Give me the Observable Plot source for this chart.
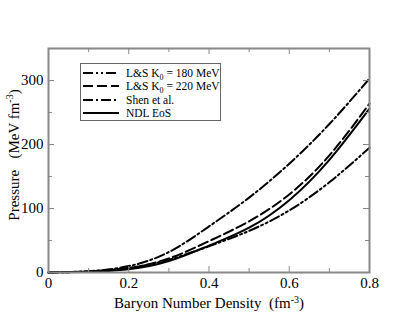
<!DOCTYPE html>
<html><head><meta charset="utf-8">
<script src="https://cdn.jsdelivr.net/npm/d3@7"></script>
<script src="https://cdn.jsdelivr.net/npm/@observablehq/plot@0.6"></script>
<style>body{margin:0;background:#fff} svg text{font-family:"Liberation Serif","Times New Roman",serif}</style>
</head><body><div id="chart"></div>
<script>
const density = [0, 0.1, 0.2, 0.3, 0.4, 0.5, 0.6, 0.7, 0.8];
const ls180 = [0, 1.5, 7, 20, 41, 65, 97, 141, 195];
const ls220 = [0, 1.5, 7, 22, 49, 80, 122, 183, 264];
const shen  = [0, 2, 10, 32, 72, 117, 170, 232, 303];
const ndl   = [0, 1, 5, 18, 42, 70, 113, 176, 256];
const seriesNames = ["L&S K0 = 180 MeV", "L&S K0 = 220 MeV", "Shen et al.", "NDL EoS"];
const xMajor = [0, 0.2, 0.4, 0.6, 0.8];
const xMinor = [0.1, 0.3, 0.5, 0.7];
const yMajor = [0, 100, 200, 300];
const yMinor = [50, 150, 250];

const dashes = ["10,3,2,3,2,3", "10,4", "10,3,2,3", null];
const valuesList = [ls180, ls220, shen, ndl];
const rows = [];
valuesList.forEach((vals, i) => vals.forEach((v, j) => rows.push({s: seriesNames[i], x: density[j], y: v})));

const serif = "Liberation Serif, Times New Roman, serif";
const frameColor = "#888";
const W = 415, H = 321, mL = 48, mR = 46, mT = 48, mB = 49;
const iw = W - mL - mR, ih = H - mT - mB;
const tMaj = 6, tMin = 4;
const plot = Plot.plot({
  width: W, height: H,
  marginLeft: mL, marginRight: mR, marginTop: mT, marginBottom: mB,
  style: {fontFamily: serif, fontSize: "15px", background: "#fff"},
  x: {domain: [0, 0.8], label: null},
  y: {domain: [0, 350], label: null},
  marks: [
    ...seriesNames.map((n, i) => Plot.line(rows.filter(r => r.s === n), {x: "x", y: "y", curve: "natural", stroke: "#000", strokeWidth: 2, strokeDasharray: dashes[i]})),
    Plot.axisX({anchor: "bottom", ticks: xMajor, tickSize: 0, tickFormat: d => d === 0 ? "0" : d3.format(".1f")(d), tickPadding: 5, fontSize: 15, fill: "#000"}),
    Plot.axisY({anchor: "left", ticks: yMajor, tickSize: 0, tickPadding: 5, fontSize: 15, fill: "#000"}),
    Plot.tickX(xMajor, {x: d => d, insetTop: ih - tMaj, stroke: frameColor}),
    Plot.tickX(xMinor, {x: d => d, insetTop: ih - tMin, stroke: frameColor}),
    Plot.tickX(xMajor, {x: d => d, insetBottom: ih - tMaj, stroke: frameColor}),
    Plot.tickX(xMinor, {x: d => d, insetBottom: ih - tMin, stroke: frameColor}),
    Plot.tickY(yMajor, {y: d => d, insetRight: iw - tMaj, stroke: frameColor}),
    Plot.tickY(yMinor, {y: d => d, insetRight: iw - tMin, stroke: frameColor}),
    Plot.tickY(yMajor, {y: d => d, insetLeft: iw - tMaj, stroke: frameColor}),
    Plot.tickY(yMinor, {y: d => d, insetLeft: iw - tMin, stroke: frameColor}),
    Plot.frame({stroke: frameColor, strokeWidth: 2})
  ]
});
document.getElementById("chart").append(plot);

const svg = d3.select(plot);
// axis titles
const xt = svg.append("text").attr("x", 209).attr("y", 308).attr("text-anchor", "middle")
  .attr("font-size", 15).attr("fill", "#000");
xt.append("tspan").text("Baryon Number Density  (fm");
xt.append("tspan").attr("font-size", 10).attr("dy", -5).text("-3");
xt.append("tspan").attr("dy", 5).text(")");
const yt = svg.append("text").attr("transform", "translate(19,155) rotate(-90)").attr("text-anchor", "middle")
  .attr("font-size", 15).attr("fill", "#000");
yt.append("tspan").text("Pressure   (MeV fm");
yt.append("tspan").attr("font-size", 10).attr("dy", -6).text("-3");
yt.append("tspan").attr("dy", 6).text(")");

// legend
const lg = svg.append("g").attr("text-anchor", "start");
lg.append("rect").attr("x", 80.5).attr("y", 63.5).attr("width", 140).attr("height", 57)
  .attr("fill", "#fff").attr("stroke", "#666").attr("stroke-width", 1);
const ly = [73, 86, 100, 113];
seriesNames.forEach((n, i) => {
  lg.append("line").attr("x1", 83).attr("x2", 119).attr("y1", ly[i]).attr("y2", ly[i])
    .attr("stroke", "#000").attr("stroke-width", 2).attr("stroke-dasharray", dashes[i] ?? null);
  const t = lg.append("text").attr("x", 126).attr("y", ly[i] + 4).attr("text-anchor", "start")
    .attr("font-size", 11.5).attr("fill", "#000");
  if (n.startsWith("L&S K0")) {
    t.append("tspan").text("L&S K");
    t.append("tspan").attr("font-size", 8).attr("dy", 3).text("0");
    t.append("tspan").attr("dy", -3).text(n.slice(6));
  } else t.text(n);
});
</script></body></html>
